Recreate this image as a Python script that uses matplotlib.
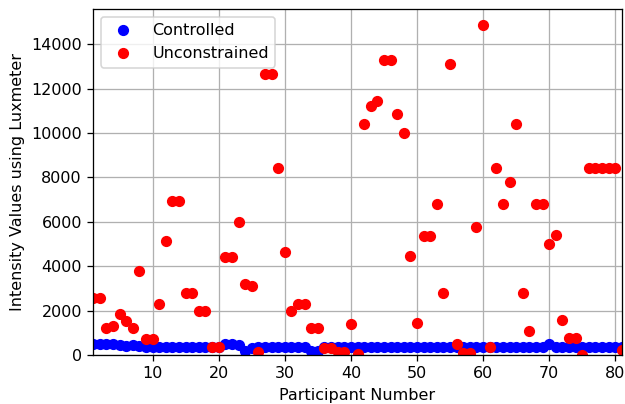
import numpy as np
from matplotlib import pyplot as plt

# Participant numbers 1..81
participants = list(range(1, 82))

controlled = [480, 480, 480, 480, 470, 420, 450, 390, 380, 380,
              380, 380, 380, 380, 380, 380, 380, 380, 380, 380,
              480, 480, 450, 200, 340, 380, 380, 380, 380, 380,
              380, 380, 380, 200, 200, 380, 380, 380, 380, 380,
              380, 380, 380, 380, 380, 380, 380, 380, 380, 380,
              380, 380, 380, 380, 380, 380, 380, 380, 380, 380,
              380, 380, 380, 380, 380, 380, 380, 380, 380, 480,
              380, 380, 380, 380, 380, 380, 380, 380, 380, 380,
              380]

unconstrained = [2570, 2570, 1230, 1300, 1870, 1520, 1230, 3800, 730, 730,
                 2300, 5150, 6930, 6930, 2790, 2790, 2000, 2000, 360, 360,
                 4430, 4430, 6000, 3200, 3090, 130, 12640, 12640, 8430, 4630,
                 1970, 2300, 2300, 1200, 1200, 340, 340, 130, 130, 1420,
                 30, 10430, 11210, 11450, 13280, 13280, 10850, 10000, 4480, 1450,
                 5360, 5360, 6790, 2790, 13130, 510, 100, 100, 5780, 14850,
                 360, 8430, 6790, 7780, 10430, 2790, 1070, 6790, 6790, 5000,
                 5430, 1570, 780, 780, 20, 8430, 8430, 8430, 8430, 8430,
                 250]

dpi = 115
fig, ax = plt.subplots(figsize=(625 / dpi, 404 / dpi), dpi=dpi)
fig.subplots_adjust(left=0.149, right=0.995, bottom=0.121, top=0.978)

ax.plot(participants, controlled, "bo", label="Controlled")
ax.plot(participants, unconstrained, "ro", label="Unconstrained")

ax.set_xlim(1, 81)
ax.set_ylim(bottom=0)
ax.set_xticks(np.arange(10, 81, 10))
ax.set_yticks(np.arange(0, 14001, 2000))
ax.grid(True, color="#b0b0b0", linewidth=0.8)
ax.set_axisbelow(True)

ax.set_xlabel("Participant Number")
ax.set_ylabel("Intensity Values using Luxmeter")
ax.legend(loc="upper left")

fig.savefig("out.png", dpi=dpi)
